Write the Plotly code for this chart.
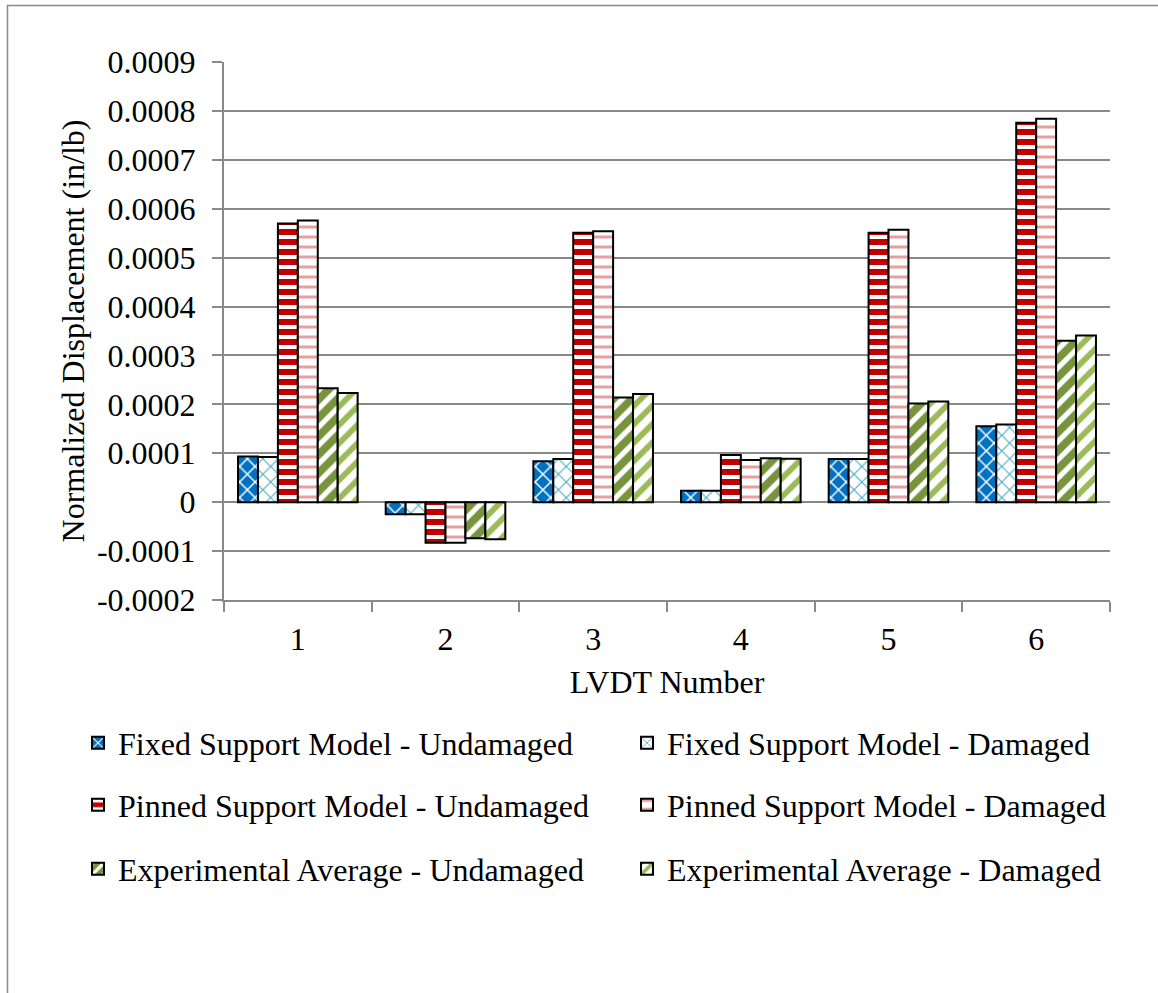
import plotly.graph_objects as go

categories = ["1", "2", "3", "4", "5", "6"]

fixed_undamaged = [0.0000935, -0.0000248, 0.0000836, 0.0000234, 0.0000884, 0.000155]
fixed_damaged = [0.0000925, -0.0000248, 0.0000885, 0.0000234, 0.0000884, 0.000159]
pinned_undamaged = [0.000570, -0.000083, 0.000551, 0.0000966, 0.000551, 0.000776]
pinned_damaged = [0.000576, -0.000083, 0.000554, 0.0000862, 0.000557, 0.000784]
exp_undamaged = [0.000233, -0.000074, 0.000214, 0.0000897, 0.000202, 0.000330]
exp_damaged = [0.000223, -0.000076, 0.000221, 0.0000890, 0.000206, 0.000341]

series_names = [
    "Fixed Support Model - Undamaged",
    "Fixed Support Model - Damaged",
    "Pinned Support Model - Undamaged",
    "Pinned Support Model - Damaged",
    "Experimental Average - Undamaged",
    "Experimental Average - Damaged",
]

y_tick_vals = [-0.0002, -0.0001, 0, 0.0001, 0.0002, 0.0003, 0.0004, 0.0005, 0.0006, 0.0007, 0.0008, 0.0009]
y_tick_text = ["-0.0002", "-0.0001", "0", "0.0001", "0.0002", "0.0003", "0.0004", "0.0005", "0.0006", "0.0007", "0.0008", "0.0009"]

FONT = "Liberation Serif"
FS = 32

styles = [
    dict(shape="x", bg="#0070C0", fg="#FFFFFF", size=11, solidity=0.25),
    dict(shape="x", bg="#FFFFFF", fg="#4BACC6", size=11, solidity=0.2),
    dict(shape="-", bg="#C00000", fg="#FFFFFF", size=10, solidity=0.4),
    dict(shape="-", bg="#FFFFFF", fg="#E6A0A0", size=10, solidity=0.3),
    dict(shape="/", bg="#77933C", fg="#FFFFFF", size=13, solidity=0.4),
    dict(shape="/", bg="#FFFFFF", fg="#9BBB59", size=13, solidity=0.45),
]

data = [fixed_undamaged, fixed_damaged, pinned_undamaged, pinned_damaged, exp_undamaged, exp_damaged]

W, H = 1158, 993
L, R, T, B = 224, 1110, 62, 600

def px_x(p):
    return (p - L) / (R - L)

def px_y(p):
    return (B - p) / (B - T)

# legend slots: (legend-left x, row center y)
legend_ids = ["legend", "legend2", "legend3", "legend4", "legend5", "legend6"]
legend_pos = [(78, 743), (627, 743), (78, 805), (627, 805), (78, 869), (627, 869)]

fig = go.Figure()
for name, vals, st, lid in zip(series_names, data, styles, legend_ids):
    fig.add_trace(go.Bar(
        x=categories, y=vals, name=name,
        legend=lid,
        marker=dict(
            color=st["bg"],
            line=dict(color="#000000", width=2),
            pattern=dict(shape=st["shape"], bgcolor=st["bg"], fgcolor=st["fg"],
                         size=st["size"], solidity=st["solidity"], fillmode="replace"),
        ),
    ))

legend_layout = {}
for lid, (lx, ly) in zip(legend_ids, legend_pos):
    legend_layout[lid] = dict(
        x=px_x(lx), y=px_y(ly), xanchor="left", yanchor="middle",
        orientation="h",
        font=dict(family=FONT, size=FS, color="#000000"),
        bgcolor="rgba(0,0,0,0)",
    )

fig.update_layout(
    width=W, height=H,
    margin=dict(l=L, r=W - R, t=T, b=H - B, pad=0),
    paper_bgcolor="#FFFFFF", plot_bgcolor="#FFFFFF",
    font=dict(family=FONT, size=FS, color="#000000"),
    barmode="group", bargap=0.19, bargroupgap=0.0,
    showlegend=True,
    xaxis=dict(
        type="category",
        showline=True, linecolor="#898989", linewidth=2,
        ticks="outside", tickson="boundaries", ticklen=10, tickcolor="#898989", tickwidth=2,
        showgrid=False,
        tickfont=dict(family=FONT, size=FS, color="#000000"),
        ticklabelstandoff=10,
        title=dict(text="LVDT Number", font=dict(family=FONT, size=FS, color="#000000"), standoff=14),
    ),
    yaxis=dict(
        range=[-0.0002, 0.0009],
        tickvals=y_tick_vals, ticktext=y_tick_text,
        showline=True, linecolor="#898989", linewidth=2,
        ticks="outside", ticklen=10, tickcolor="#898989", tickwidth=2,
        showgrid=True, gridcolor="#898989", gridwidth=2,
        zeroline=False,
        tickfont=dict(family=FONT, size=FS, color="#000000"),
        ticklabelstandoff=10,
        title=dict(text="Normalized Displacement (in/lb)", font=dict(family=FONT, size=FS, color="#000000"), standoff=3),
    ),
    shapes=[dict(
        type="rect", xref="paper", yref="paper",
        x0=px_x(7.5), x1=px_x(1200), y0=px_y(1100), y1=px_y(5.5),
        line=dict(color="#898989", width=1.5), fillcolor="rgba(0,0,0,0)", layer="below",
    )],
    **legend_layout,
)

fig.write_html("out.html", config={"displayModeBar": False},
               post_script="document.body.style.margin='0';")
